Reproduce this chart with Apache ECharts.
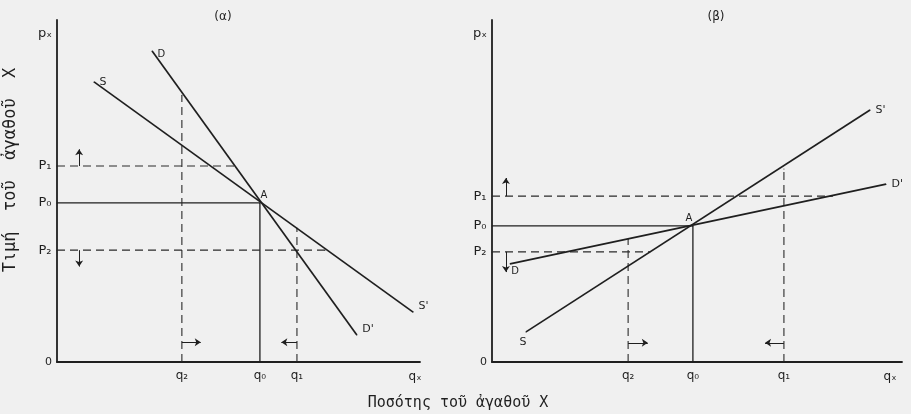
<!DOCTYPE html>
<html>
<head>
<meta charset="utf-8">
<script src="https://cdn.jsdelivr.net/npm/echarts@6/dist/echarts.min.js"></script>
<style>
html,body{margin:0;padding:0;background:#f0f0f0;}
#chart{width:911px;height:414px;}
</style>
</head>
<body>
<div id="chart"></div>
<script>
// ---- data (axes run 0..100 in each panel) ----
const panelTitles = ['(α)', '(β)'];
const yTitle = 'Τιμή  τοῦ  ἀγαθοῦ  Χ';
const xTitle = 'Ποσότης τοῦ ἀγαθοῦ Χ';
const priceLabels = ['P₁', 'P₀', 'P₂'];
const qtyLabels = ['q₁', 'q₀', 'q₂'];

// panel (α)
const alphaSupply = [[10.2, 81.9], [98.1, 14.6]];
const alphaDemand = [[26.2, 90.9], [82.6, 7.9]];
const alphaEquilibrium = [55.9, 46.5];          // q0, p0
const alphaPrices = [57.3, 32.7];               // p1, p2
const alphaPriceEnds = [48.6, 73.8];            // where p1 / p2 dashes stop
const alphaQuantities = [66.1, 34.4];           // q1, q2
const alphaQuantityEnds = [39.2, 78.0];         // where q1 / q2 dashes stop
const alphaArrows = [
  [[6.1, 57.3], [6.1, 62.2]],
  [[6.1, 32.7], [6.1, 27.9]],
  [[34.4, 5.8], [39.6, 5.8]],
  [[66.1, 5.8], [61.8, 5.8]]
];

// panel (β)
const betaSupply = [[8.3, 8.8], [92.2, 73.7]];
const betaDemand = [[4.4, 28.7], [96.1, 52.0]];
const betaEquilibrium = [49.0, 39.8];
const betaPrices = [48.5, 32.2];
const betaPriceEnds = [83.0, 38.5];
const betaQuantities = [71.2, 33.2];
const betaQuantityEnds = [56.4, 36.0];
const betaArrows = [
  [[3.4, 48.5], [3.4, 53.8]],
  [[3.4, 32.2], [3.4, 26.3]],
  [[33.2, 5.6], [38.0, 5.6]],
  [[71.2, 5.6], [66.6, 5.6]]
];

// ---- styling ----
const INK = '#1f1f1f';
const FONT = 'DejaVu Sans';
const solid = {color: INK, width: 1.7, type: 'solid'};
const thin = {color: INK, width: 1.3, type: 'solid'};
const dashed = {color: '#2a2a2a', width: 1.1, type: [8, 5]};
const txt = (size) => ({color: INK, fontFamily: FONT, fontSize: size});

function lbl(text, position, offset, size) {
  return Object.assign({show: true, formatter: text, position: position, offset: offset || [0, 0], distance: 5}, txt(size || 11));
}
function pt(coord, label) {
  const o = {value: coord};
  if (label) o.label = label; else o.label = {show: false};
  return o;
}
function lineSeries(idx, data, style, z) {
  return {
    type: 'line', xAxisIndex: idx, yAxisIndex: idx, data: data,
    symbol: 'circle', symbolSize: 1, showSymbol: true,
    itemStyle: {color: INK}, lineStyle: style, silent: true,
    animation: false, z: z || 2
  };
}

function panelSeries(idx, sup, dem, eq, prices, pEnds, qtys, qEnds, arrows, cfg) {
  const s = [];
  s.push(lineSeries(idx, [pt(sup[0], lbl('S', cfg.s0[0], cfg.s0[1])), pt(sup[1], lbl("S'", cfg.s1[0], cfg.s1[1]))], solid, 3));
  s.push(lineSeries(idx, [pt(dem[0], lbl('D', cfg.d0[0], cfg.d0[1], 10)), pt(dem[1], lbl("D'", cfg.d1[0], cfg.d1[1]))], solid, 3));
  // equilibrium guides
  s.push(lineSeries(idx, [
    pt([0, eq[1]], lbl(priceLabels[1], 'left', [0, 0], 13)),
    pt([eq[0], eq[1]], lbl('A', cfg.a[0], cfg.a[1], 10)),
    pt([eq[0], 0], lbl(qtyLabels[1], 'bottom', [0, 2], 12))
  ], thin, 2));
  // price dashes
  s.push(lineSeries(idx, [pt([0, prices[0]], lbl(priceLabels[0], 'left', [0, 0], 13)), pt([pEnds[0], prices[0]])], dashed));
  s.push(lineSeries(idx, [pt([0, prices[1]], lbl(priceLabels[2], 'left', [0, 0], 13)), pt([pEnds[1], prices[1]])], dashed));
  // quantity dashes
  s.push(lineSeries(idx, [pt([qtys[0], 0], lbl(qtyLabels[0], 'bottom', [0, 2], 12)), pt([qtys[0], qEnds[0]])], dashed));
  s.push(lineSeries(idx, [pt([qtys[1], 0], lbl(qtyLabels[2], 'bottom', [0, 2], 12)), pt([qtys[1], qEnds[1]])], dashed));
  // arrows
  s.push({
    type: 'lines', coordinateSystem: 'cartesian2d', xAxisIndex: idx, yAxisIndex: idx,
    data: arrows.map(a => ({coords: a})),
    symbol: ['none', 'arrow'], symbolSize: [0, 6],
    lineStyle: {color: INK, width: 1, opacity: 1, curveness: 0},
    silent: true, animation: false, z: 4
  });
  return s;
}

function xAx(idx, gap) {
  return {
    gridIndex: idx, type: 'value', min: 0, max: 100,
    axisLine: {show: true, onZero: false, lineStyle: {color: INK, width: 1.8}},
    axisTick: {show: false}, axisLabel: {show: false}, splitLine: {show: false},
    name: 'qₓ', nameLocation: 'end', nameGap: gap,
    nameTextStyle: Object.assign({align: 'center', verticalAlign: 'top', padding: [9, 0, 0, 0]}, txt(12))
  };
}
function yAx(idx) {
  return {
    gridIndex: idx, type: 'value', min: 0, max: 100, interval: 100,
    axisLine: {show: true, onZero: false, lineStyle: {color: INK, width: 1.8}},
    axisTick: {show: false}, splitLine: {show: false},
    axisLabel: Object.assign({show: true, margin: 5, formatter: v => (v === 0 ? '0' : '')}, txt(11)),
    name: 'pₓ', nameLocation: 'end', nameGap: -20,
    nameTextStyle: Object.assign({align: 'right', padding: [0, 5, 0, 0]}, txt(13))
  };
}

const chart = echarts.init(document.getElementById('chart'));
chart.setOption({
  backgroundColor: '#f0f0f0',
  animation: false,
  title: [
    {text: panelTitles[0], left: 218, top: 6, textAlign: 'center', textStyle: Object.assign({fontWeight: 'normal'}, txt(12))},
    {text: panelTitles[1], left: 711, top: 6, textAlign: 'center', textStyle: Object.assign({fontWeight: 'normal'}, txt(12))}
  ],
  grid: [
    {left: 57, top: 20, width: 363, height: 342},
    {left: 492, top: 20, width: 410, height: 342}
  ],
  xAxis: [xAx(0, -5), xAx(1, -12)],
  yAxis: [yAx(0), yAx(1)],
  graphic: [
    {type: 'text', x: 2, y: 170, rotation: Math.PI / 2,
     style: {text: yTitle, fill: INK, font: '17px "DejaVu Sans Mono"', textAlign: 'center', textVerticalAlign: 'top'}},
    {type: 'text', x: 458, y: 396, style: {text: xTitle, fill: INK, font: '15px "DejaVu Sans Mono"', textAlign: 'center'}}
  ],
  series: [].concat(
    panelSeries(0, alphaSupply, alphaDemand, alphaEquilibrium, alphaPrices, alphaPriceEnds, alphaQuantities, alphaQuantityEnds, alphaArrows,
      {s0: ['right', [0, 0]], s1: ['right', [0, -6]], d0: ['right', [0, 3]], d1: ['right', [0, -6]], a: ['top', [4, 3]]}),
    panelSeries(1, betaSupply, betaDemand, betaEquilibrium, betaPrices, betaPriceEnds, betaQuantities, betaQuantityEnds, betaArrows,
      {s0: ['bottom', [-3, -1]], s1: ['right', [0, 0]], d0: ['bottom', [5, -3]], d1: ['right', [0, 0]], a: ['top', [-4, 3]]})
  )
});
</script>
</body>
</html>
